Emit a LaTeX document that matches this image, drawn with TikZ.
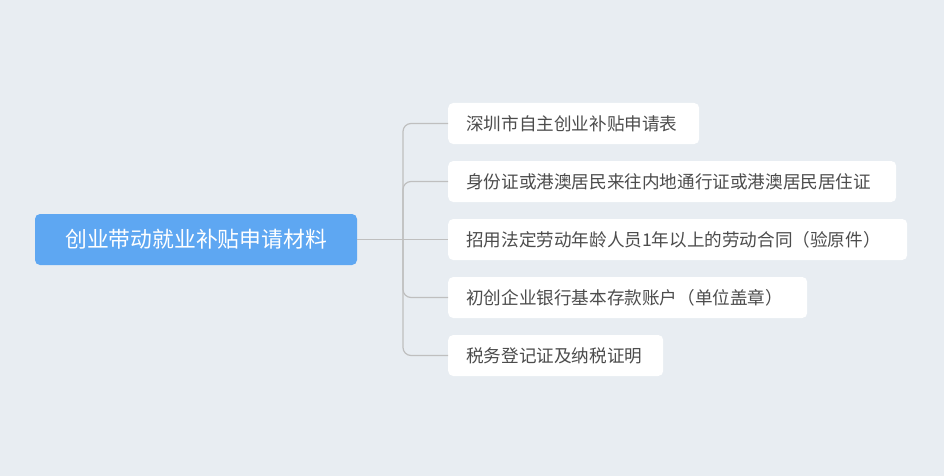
\documentclass[tikz,border=0pt]{standalone}
\usepackage{fontspec}
\setmainfont{Noto Sans CJK SC}
\begin{document}
\begin{tikzpicture}[x=1pt,y=-1pt,
  leaf/.style={fill=white,rounded corners=5pt,anchor=west,inner xsep=18pt,minimum height=41pt,text=black!70,font=\fontsize{17.6}{19}\selectfont,align=left},
  conn/.style={draw=black!25,line width=1.2pt,rounded corners=8pt}]
\fill[fill={rgb,255:red,232;green,237;blue,242}] (0,0) rectangle (944,476);
\node[fill={rgb,255:red,94;green,167;blue,242},rounded corners=5pt,minimum width=322pt,minimum height=51pt,text=white,font=\fontsize{21.8}{24}\selectfont] (root) at (196,239.5) {创业带动就业补贴申请材料};
\node[leaf,text width=215pt] (a) at (448,123.5) {深圳市自主创业补贴申请表};
\node[leaf,text width=412pt] (b) at (448,181.5) {身份证或港澳居民来往内地通行证或港澳居民居住证};
\node[leaf,text width=423pt] (c) at (448,239.5) {招用法定劳动年龄人员1年以上的劳动合同（验原件）};
\node[leaf,text width=323pt] (d) at (448,297.5) {初创企业银行基本存款账户（单位盖章）};
\node[leaf,text width=179pt] (e) at (448,355.5) {税务登记证及纳税证明};
\coordinate (j) at (403,239.5);
\draw[conn] (root.east) -- (c.west);
\foreach \n in {a,b,d,e}{\draw[conn] (j) |- (\n.west);}
\end{tikzpicture}
\end{document}
